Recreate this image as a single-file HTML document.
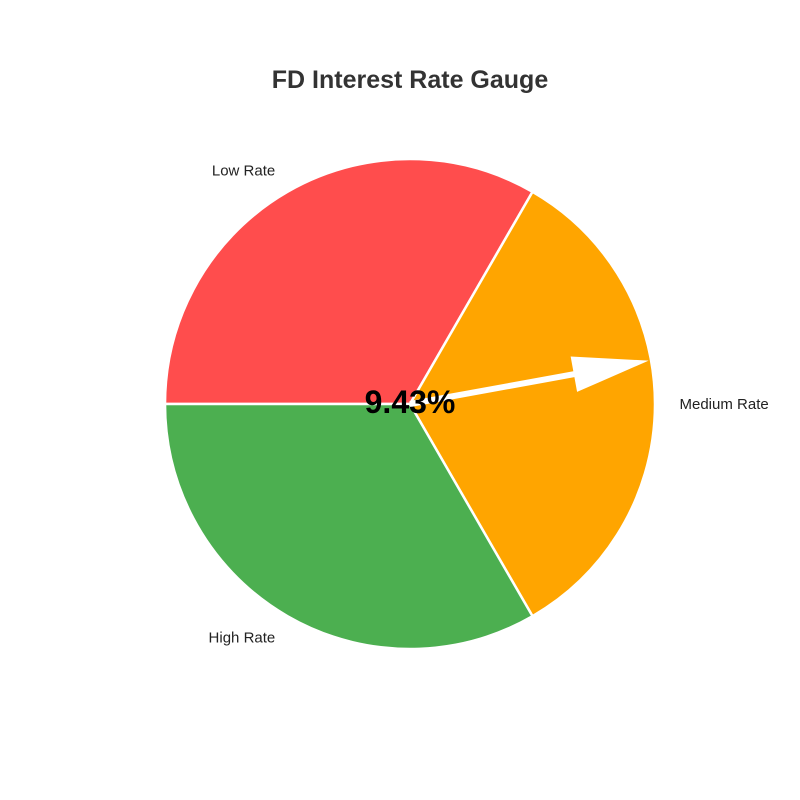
<!DOCTYPE html>
<html><head><meta charset="utf-8"><style>
html,body{margin:0;padding:0;background:#fff;width:800px;height:800px;overflow:hidden}
svg{display:block;font-family:"Liberation Sans","DejaVu Sans",sans-serif}
</style></head><body>
<svg id="chart" width="800" height="800" viewBox="0 0 800 800">
<text x="410" y="88" text-anchor="middle" font-size="25" font-weight="bold" fill="#333">FD Interest Rate Gauge</text>
<g id="slices"></g>
<g id="labels"></g>
<g id="needle"></g>
<text id="val" x="410" y="413" text-anchor="middle" font-size="32" font-weight="bold" fill="#000"></text>
</svg>
<script>
const categories = ["Low Rate", "Medium Rate", "High Rate"];
const values = [1, 1, 1];
const colors = ["#ff4d4d", "#ffa500", "#4caf50"];
const rateValue = 9.43;
const needleAngleDeg = 10.3;

const cx = 410, cy = 404, r = 245, startAngle = 180;
const NS = "http://www.w3.org/2000/svg";
const total = values.reduce((a,b)=>a+b,0);
function pt(angDeg, rad){const a=angDeg*Math.PI/180;return [cx+rad*Math.cos(a), cy-rad*Math.sin(a)];}
const gS=document.getElementById('slices'), gL=document.getElementById('labels');
let ang=startAngle;
values.forEach((v,i)=>{
  const sweep=v/total*360;
  const a1=ang, a2=ang-sweep;
  const p1=pt(a1,r), p2=pt(a2,r);
  const path=document.createElementNS(NS,'path');
  path.setAttribute('d',`M${cx},${cy} L${p1[0]},${p1[1]} A${r},${r} 0 ${sweep>180?1:0} 1 ${p2[0]},${p2[1]} Z`);
  path.setAttribute('fill',colors[i]);path.setAttribute('stroke','#fff');path.setAttribute('stroke-width','2.5');
  
  
  gS.appendChild(path);
  const mid=(a1+a2)/2, lp=pt(mid,r*1.1);
  const t=document.createElementNS(NS,'text');
  const c=Math.cos(mid*Math.PI/180);
  t.setAttribute('x',lp[0]);t.setAttribute('y',lp[1]+5);
  t.setAttribute('text-anchor',c<-0.01?'end':(c>0.01?'start':'middle'));
  t.setAttribute('font-size','15');t.setAttribute('fill','#222');
  t.textContent=categories[i];
  
  
  gL.appendChild(t);
  ang=a2;
});
const L=r*0.99, headLen=76, halfW=3, headHalf=18;
const a=needleAngleDeg*Math.PI/180, ux=Math.cos(a), uy=-Math.sin(a), nx=-uy, ny=ux;
const bx=cx+ux*(L-headLen), by=cy+uy*(L-headLen);
const tip=[cx+ux*L, cy+uy*L];
const poly=[[cx+nx*halfW,cy+ny*halfW],[bx+nx*halfW,by+ny*halfW],[bx+nx*headHalf,by+ny*headHalf],tip,[bx-nx*headHalf,by-ny*headHalf],[bx-nx*halfW,by-ny*halfW],[cx-nx*halfW,cy-ny*halfW]];
const arrow=document.createElementNS(NS,'polygon');
arrow.setAttribute('points',poly.map(p=>p.join(',')).join(' '));
arrow.setAttribute('fill','#fff');


document.getElementById('needle').appendChild(arrow);
document.getElementById('val').textContent=rateValue.toFixed(2)+'%';
</script>
</body></html>
